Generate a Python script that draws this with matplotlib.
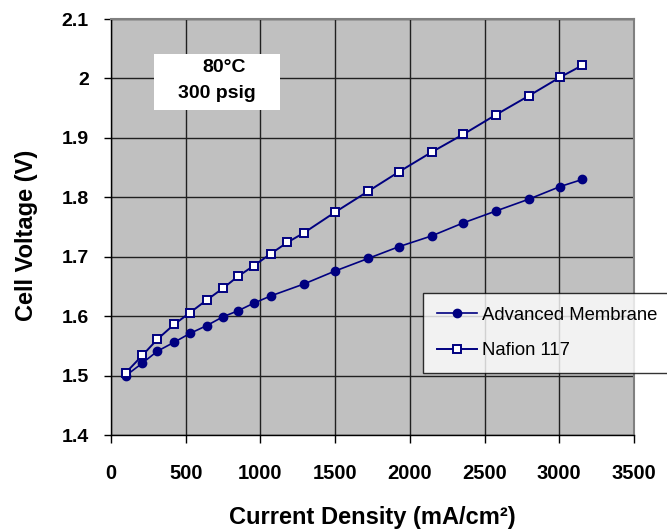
import matplotlib

matplotlib.use("Agg")
import matplotlib.pyplot as plt
from matplotlib.patches import Rectangle

# current density (mA/cm2) and cell voltage (V)
adv_current = [100, 210, 310, 422, 529, 640, 750, 850, 957, 1069, 1290, 1500,
               1720, 1928, 2146, 2358, 2577, 2798, 3005, 3154]
adv_voltage = [1.500, 1.521, 1.541, 1.556, 1.571, 1.584, 1.599, 1.609, 1.622, 1.634,
               1.654, 1.676, 1.697, 1.717, 1.735, 1.757, 1.777, 1.797, 1.818, 1.830]

naf_current = [100, 210, 310, 422, 529, 640, 750, 850, 957, 1069, 1180, 1290,
               1500, 1720, 1928, 2146, 2358, 2577, 2798, 3005, 3154]
naf_voltage = [1.505, 1.534, 1.561, 1.586, 1.606, 1.627, 1.647, 1.667, 1.685, 1.705,
               1.724, 1.740, 1.775, 1.810, 1.843, 1.876, 1.906, 1.939, 1.971, 2.002, 2.022]

x_ticks = [0, 500, 1000, 1500, 2000, 2500, 3000, 3500]
y_ticks = [1.4, 1.5, 1.6, 1.7, 1.8, 1.9, 2.0, 2.1]
y_labels = ["1.4", "1.5", "1.6", "1.7", "1.8", "1.9", "2", "2.1"]

plt.rcParams["font.family"] = ["Liberation Sans", "DejaVu Sans"]

W, H = 667, 529
fig = plt.figure(figsize=(W / 100, H / 100), dpi=100)
ax = fig.add_axes([111 / W, (H - 435) / H, 523 / W, 416 / H])
ax.set_facecolor("#c0c0c0")

navy = "#000080"
ax.plot(adv_current, adv_voltage, color=navy, lw=1.2, marker="o", ms=6,
        mfc=navy, mec=navy, label="Advanced Membrane", zorder=3)
ax.plot(naf_current, naf_voltage, color=navy, lw=1.4, marker="s", ms=6,
        mfc="white", mec=navy, mew=1.4, label="Nafion 117", zorder=4)

ax.set_xlim(0, 3500)
ax.set_ylim(1.4, 2.1)
ax.set_xticks(x_ticks)
ax.set_yticks(y_ticks)
ax.set_yticklabels(y_labels)
ax.grid(True, color="#202020", lw=1.0)
ax.set_axisbelow(True)

for side in ("top", "right"):
    ax.spines[side].set_color("#808080")
    ax.spines[side].set_linewidth(1.5)
for side in ("left", "bottom"):
    ax.spines[side].set_color("black")
    ax.spines[side].set_linewidth(1.0)

ax.tick_params(axis="x", direction="out", length=6, width=1, pad=15, labelsize=14.5)
ax.tick_params(axis="y", direction="out", length=5, width=1, pad=11, labelsize=14)
for lbl in ax.get_xticklabels() + ax.get_yticklabels():
    lbl.set_fontweight("bold")

ax.set_xlabel("Current Density (mA/cm²)", fontsize=17, fontweight="bold")
ax.xaxis.set_label_coords(0.5, -0.17)
ax.set_ylabel("Cell Voltage (V)", fontsize=17, fontweight="bold")
ax.yaxis.set_label_coords(-0.14, 0.48)

# condition box
ax.add_patch(Rectangle((288, 1.9465), 843, 0.0945, facecolor="white",
                       edgecolor="none", zorder=5))
ax.text(756, 2.019, "80°C", ha="center", va="center", fontsize=14,
        fontweight="bold", zorder=6)
ax.text(709, 1.975, "300 psig", ha="center", va="center", fontsize=14,
        fontweight="bold", zorder=6)

leg = ax.legend(loc="upper left", bbox_to_anchor=(423 / W, (H - 293) / H),
                bbox_transform=fig.transFigure, fontsize=13.3, frameon=True,
                fancybox=False, borderpad=0.75, labelspacing=1.0,
                handlelength=2.2, handletextpad=0.25, borderaxespad=0)
leg.get_frame().set_edgecolor("black")
leg.get_frame().set_linewidth(1.0)
leg.set_zorder(10)

fig.savefig("out.png", dpi=100)
